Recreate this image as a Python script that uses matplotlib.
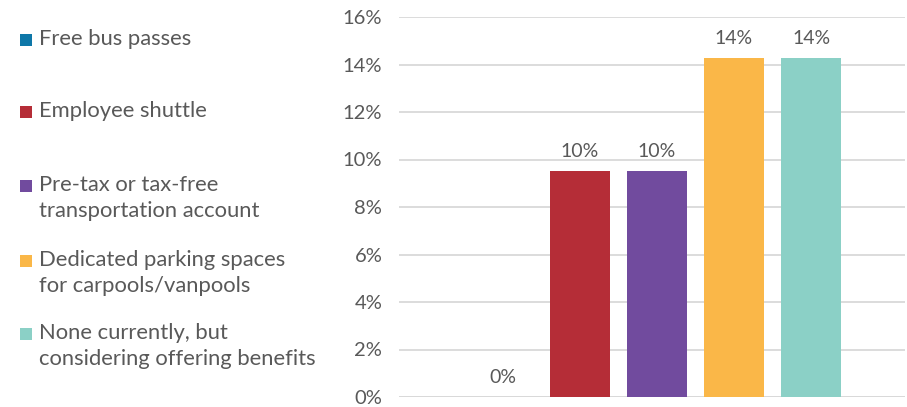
import matplotlib

matplotlib.use("Agg")
import matplotlib.pyplot as plt
from matplotlib.patches import Rectangle
from matplotlib.ticker import FuncFormatter

plt.rcParams["font.family"] = ["Lato", "DejaVu Sans"]

categories = [
    "Free bus passes",
    "Employee shuttle",
    "Pre-tax or tax-free\ntransportation account",
    "Dedicated parking spaces\nfor carpools/vanpools",
    "None currently, but\nconsidering offering benefits",
]
values = [0.0, 9.52, 9.52, 14.29, 14.29]
labels = ["0%", "10%", "10%", "14%", "14%"]
colors = ["#0E77A8", "#B52D37", "#714B9E", "#FAB748", "#8BD0C6"]
yticks = [0, 2, 4, 6, 8, 10, 12, 14, 16]

text_color = "#595959"
grid_color = "#D9D9D9"

fig = plt.figure(figsize=(9.07, 4.07), dpi=100)
ax = fig.add_axes([399 / 907, 1 - 397 / 407, 506 / 907, 380 / 407])

x = list(range(len(values)))
ax.bar(x, values, width=0.79, color=colors, zorder=3)
for xi, v, lab in zip(x, values, labels):
    ax.annotate(lab, (xi, v), xytext=(0, 8), textcoords="offset points",
                ha="center", va="bottom", fontsize=14, color=text_color)

ax.set_xlim(-1.35, 5.22)
ax.set_ylim(0, 16)
ax.set_yticks(yticks)
ax.yaxis.set_major_formatter(FuncFormatter(lambda v, _: f"{v:.0f}%"))
ax.set_xticks([])
ax.grid(axis="y", color=grid_color, linewidth=1.3, zorder=0)
ax.tick_params(axis="y", length=0, pad=12, labelsize=14.5, labelcolor=text_color)
for side in ["top", "right", "left", "bottom"]:
    ax.spines[side].set_visible(False)
ax.axhline(0, color=grid_color, linewidth=1.3, zorder=2)

# legend drawn by hand to match the uneven spacing
legend_y = [40, 112, 186, 261, 334]
for name, color, yy in zip(categories, colors, legend_y):
    fig.patches.append(Rectangle((20 / 907, 1 - (yy + 6) / 407), 12 / 907, 12 / 407,
                                 transform=fig.transFigure, facecolor=color, edgecolor="none"))
    fig.text(39 / 907, 1 - (yy - 11) / 407, name, ha="left", va="top", fontsize=15.8,
             color=text_color, linespacing=1.4)

fig.savefig("out.png", dpi=100)
